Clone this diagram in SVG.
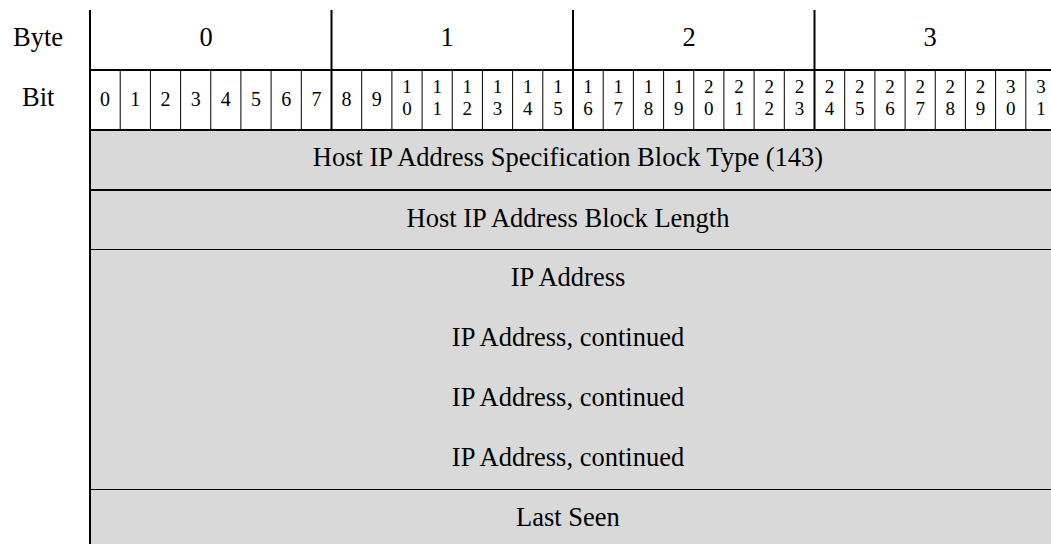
<svg xmlns="http://www.w3.org/2000/svg" width="1051" height="544" viewBox="0 0 1051 544">
<style>
text{font-family:"Liberation Serif","Times New Roman",serif;fill:#000}
.big{font-size:26.5px}
.hdr{font-size:26.5px;text-anchor:middle}
.lbl{font-size:26.5px;text-anchor:middle}
.bit{font-size:20px;text-anchor:middle}
.bit2{font-size:19px;text-anchor:middle}
.thick{stroke:#000;stroke-width:2;fill:none}
.thin{stroke:#000;stroke-width:1;fill:none}
</style>
<rect x="90" y="130" width="961" height="414" fill="#d9d9d9"/>
<g id="header-labels">
<text class="big" x="13" y="46">Byte</text>
<text class="big" x="22" y="106">Bit</text>
</g>
<g id="byte-row">
<text class="hdr" x="206" y="46">0</text>
<text class="hdr" x="447" y="46">1</text>
<text class="hdr" x="689" y="46">2</text>
<text class="hdr" x="930" y="46">3</text>
</g>
<g id="bit-row">
<text class="bit" x="105.1" y="106">0</text>
<text class="bit" x="135.3" y="106">1</text>
<text class="bit" x="165.5" y="106">2</text>
<text class="bit" x="195.7" y="106">3</text>
<text class="bit" x="225.8" y="106">4</text>
<text class="bit" x="256.0" y="106">5</text>
<text class="bit" x="286.2" y="106">6</text>
<text class="bit" x="316.4" y="106">7</text>
<text class="bit" x="346.6" y="106">8</text>
<text class="bit" x="376.8" y="106">9</text>
<text class="bit2"><tspan x="407.0" y="92.5">1</tspan><tspan x="407.0" y="114.5">0</tspan></text>
<text class="bit2"><tspan x="437.2" y="92.5">1</tspan><tspan x="437.2" y="114.5">1</tspan></text>
<text class="bit2"><tspan x="467.3" y="92.5">1</tspan><tspan x="467.3" y="114.5">2</tspan></text>
<text class="bit2"><tspan x="497.5" y="92.5">1</tspan><tspan x="497.5" y="114.5">3</tspan></text>
<text class="bit2"><tspan x="527.7" y="92.5">1</tspan><tspan x="527.7" y="114.5">4</tspan></text>
<text class="bit2"><tspan x="557.9" y="92.5">1</tspan><tspan x="557.9" y="114.5">5</tspan></text>
<text class="bit2"><tspan x="588.1" y="92.5">1</tspan><tspan x="588.1" y="114.5">6</tspan></text>
<text class="bit2"><tspan x="618.3" y="92.5">1</tspan><tspan x="618.3" y="114.5">7</tspan></text>
<text class="bit2"><tspan x="648.5" y="92.5">1</tspan><tspan x="648.5" y="114.5">8</tspan></text>
<text class="bit2"><tspan x="678.7" y="92.5">1</tspan><tspan x="678.7" y="114.5">9</tspan></text>
<text class="bit2"><tspan x="708.8" y="92.5">2</tspan><tspan x="708.8" y="114.5">0</tspan></text>
<text class="bit2"><tspan x="739.0" y="92.5">2</tspan><tspan x="739.0" y="114.5">1</tspan></text>
<text class="bit2"><tspan x="769.2" y="92.5">2</tspan><tspan x="769.2" y="114.5">2</tspan></text>
<text class="bit2"><tspan x="799.4" y="92.5">2</tspan><tspan x="799.4" y="114.5">3</tspan></text>
<text class="bit2"><tspan x="829.6" y="92.5">2</tspan><tspan x="829.6" y="114.5">4</tspan></text>
<text class="bit2"><tspan x="859.8" y="92.5">2</tspan><tspan x="859.8" y="114.5">5</tspan></text>
<text class="bit2"><tspan x="890.0" y="92.5">2</tspan><tspan x="890.0" y="114.5">6</tspan></text>
<text class="bit2"><tspan x="920.2" y="92.5">2</tspan><tspan x="920.2" y="114.5">7</tspan></text>
<text class="bit2"><tspan x="950.3" y="92.5">2</tspan><tspan x="950.3" y="114.5">8</tspan></text>
<text class="bit2"><tspan x="980.5" y="92.5">2</tspan><tspan x="980.5" y="114.5">9</tspan></text>
<text class="bit2"><tspan x="1010.7" y="92.5">3</tspan><tspan x="1010.7" y="114.5">0</tspan></text>
<text class="bit2"><tspan x="1040.9" y="92.5">3</tspan><tspan x="1040.9" y="114.5">1</tspan></text>
</g>
<g id="field-block-type"><text class="lbl" x="568" y="166">Host IP Address Specification Block Type (143)</text></g>
<g id="field-block-length"><text class="lbl" x="568" y="227">Host IP Address Block Length</text></g>
<g id="field-ip-address">
<text class="lbl" x="568" y="286">IP Address</text>
<text class="lbl" x="568" y="346">IP Address, continued</text>
<text class="lbl" x="568" y="406">IP Address, continued</text>
<text class="lbl" x="568" y="466">IP Address, continued</text>
</g>
<g id="field-last-seen"><text class="lbl" x="568" y="526">Last Seen</text></g>
<g id="grid-lines">
<path class="thick" d="M90 10V544M331.5 10V130M573 10V130M814.5 10V130M90 70H1051M90 130H1051M90 190H1051"/>
<path class="thin" d="M120.2 70V130M150.4 70V130M180.6 70V130M210.75 70V130M240.9 70V130M271.1 70V130M301.3 70V130M361.7 70V130M391.9 70V130M422.1 70V130M452.25 70V130M482.4 70V130M512.6 70V130M542.8 70V130M603.2 70V130M633.4 70V130M663.6 70V130M693.75 70V130M723.9 70V130M754.1 70V130M784.3 70V130M844.7 70V130M874.9 70V130M905.1 70V130M935.25 70V130M965.4 70V130M995.6 70V130M1025.8 70V130M90 249.5H1051M90 489.5H1051"/>
</g>
</svg>
